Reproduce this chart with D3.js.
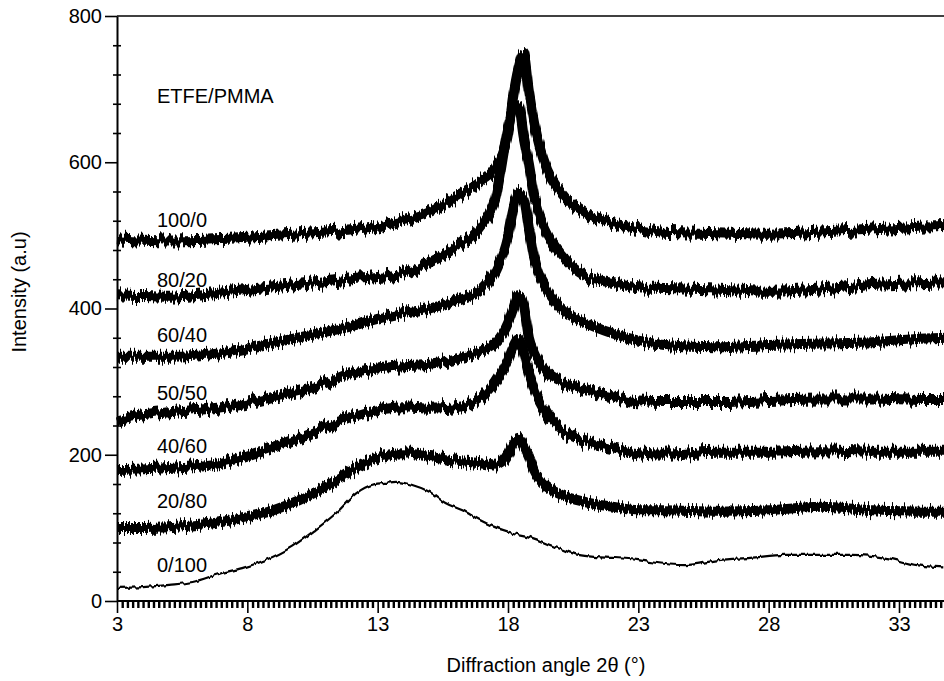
<!DOCTYPE html>
<html>
<head>
<meta charset="utf-8">
<script src="https://cdn.jsdelivr.net/npm/d3@7/dist/d3.min.js"></script>
<style>
body{margin:0;background:#fff}
text{font-family:"Liberation Sans",Arial,sans-serif;fill:#000}
</style>
</head>
<body>
<div id="graph"></div>
<script>
var width=944;
var height=681;

// 2theta grid (deg) for the noisy scans
var angle=[3,4,5,7,9,11,12,13,14,15,16,17,17.5,18,18.2,18.4,18.6,18.8,19,19.5,20,21,22,23,24,26,28,30,32,34,34.8];
var etfe100=[496,494,493,495,499,504,507,512,521,532,552,575,592,640,690,728,748,697,655,590,560,530,517,510,505,503,501,504,508,512,513];
var etfe80=[418,417,416,422,429,436,440,443,448,463,484,514,548,645,672,678,635,598,555,503,476,445,435,429,428,426,423,426,432,435,436];
var etfe60=[334,334,334,339,353,368,376,386,394,400,411,428,450,498,535,558,550,510,470,426,402,380,366,356,350,347,350,352,354,359,360];
var etfe50=[247,254,258,265,279,298,312,318,321,323,330,342,352,380,400,418,405,360,340,312,300,288,280,273,272,272,275,277,277,275,275];
var etfe40=[179,180,182,189,211,238,252,261,265,263,265,278,298,330,348,358,340,312,290,255,236,218,209,202,200,204,204,206,204,204,204];
var etfe20=[100,100,101,108,124,156,178,197,202,197,192,188,185,200,215,222,212,197,178,156,146,135,129,124,124,122,124,129,124,122,122];

// pure PMMA scan (thin line)
var angle0=[3,4,5,5.9,7,7.8,8.7,9.7,10.6,11.4,12.2,12.8,13.4,13.7,14.3,15,15.6,16.25,16.9,17.5,18.2,18.8,19.45,20.1,20.7,21.4,22,23,23.5,24.8,26.1,27.3,28.6,29.9,31.2,32.5,33.7,34.7];
var etfe0=[18,19,22,26,38,45,56,74,97,120,148,159,162,163,159,149,134,124,111,101,93,88,79,70,63,60,59,56,53,49,56,59,63,63,63,59,49,46];

var names=['100/0','80/20','60/40','50/50','40/60','20/80','0/100'];
var xTicks=[3,8,13,18,23,28,33];
var yTicks=[0,200,400,600,800];

var series=[
	{name:names[0],xs:angle,ys:etfe100,ly:227},
	{name:names[1],xs:angle,ys:etfe80,ly:287},
	{name:names[2],xs:angle,ys:etfe60,ly:342},
	{name:names[3],xs:angle,ys:etfe50,ly:400},
	{name:names[4],xs:angle,ys:etfe40,ly:453},
	{name:names[5],xs:angle,ys:etfe20,ly:508},
	{name:names[6],xs:angle0,ys:etfe0,ly:572,thin:true}
];

var svg=d3.select('#graph').append('svg').attr('width',width).attr('height',height);

var x=d3.scaleLinear().domain([3,33]).range([117,899]);
var y=d3.scaleLinear().domain([0,800]).range([601,16]);

// rough scan texture
var defs=svg.append('defs');
function jag(id,freq,scale){
	var f=defs.append('filter').attr('id',id).attr('filterUnits','userSpaceOnUse')
		.attr('x',0).attr('y',0).attr('width',width).attr('height',height)
		.attr('color-interpolation-filters','sRGB');
	f.append('feTurbulence').attr('type','fractalNoise').attr('baseFrequency',freq)
		.attr('numOctaves',2).attr('seed',7).attr('result','n');
	f.append('feColorMatrix').attr('in','n').attr('type','matrix')
		.attr('values','0 0 0 0 0.5  1 0 0 0 0  0 0 0 0 0  0 0 0 0 1').attr('result','m');
	f.append('feDisplacementMap').attr('in','SourceGraphic').attr('in2','m')
		.attr('scale',scale).attr('xChannelSelector','R').attr('yChannelSelector','G');
}
jag('jag','0.5 0.006',16);
jag('jagThin','0.25 0.01',5);

var line=d3.line().curve(d3.curveMonotoneX);

svg.selectAll('path.scan').data(series).enter().append('path')
	.attr('class','scan')
	.attr('d',function(d){
		return line(d.xs.map(function(v,i){return [x(v),y(d.ys[i])];}));
	})
	.attr('fill','none')
	.attr('stroke','#000')
	.attr('stroke-width',function(d){return d.thin?2.2:10;})
	.attr('filter',function(d){return d.thin?'url(#jagThin)':'url(#jag)';});

svg.selectAll('text.lbl').data(series).enter().append('text')
	.attr('class','lbl')
	.attr('x',157).attr('y',function(d){return d.ly;})
	.style('font-size','20px')
	.text(function(d){return d.name;});

svg.append('text').attr('x',157).attr('y',103).style('font-size','20px').text('ETFE/PMMA');

// frame top
svg.append('path').attr('d','M117,16H'+width).attr('stroke','#000').attr('stroke-width',1.5);

function styleAxis(g,w,tw){
	g.select('.domain').attr('stroke-width',w);
	g.selectAll('.tick line').attr('stroke','#000').attr('stroke-width',tw||1.6);
	g.selectAll('text').style('font-size','20px').style('font-family','"Liberation Sans",Arial,sans-serif');
}

// minor ticks
var yMinor=d3.range(40,800,40).filter(function(v){return v%200!==0;});
var xMinor=d3.range(0,160).map(function(i){return +(3+i*0.2).toFixed(1);})
	.filter(function(v){return x(v)<=width && Math.round((v-3)*10)%50!==0;});

var yMinL=svg.append('g').attr('transform','translate(117,0)')
	.call(d3.axisLeft(y).tickValues(yMinor).tickSize(4).tickFormat(''));
yMinL.select('.domain').remove();
styleAxis(yMinL,0);
var yMinR=svg.append('g').attr('transform','translate(117,0)')
	.call(d3.axisRight(y).tickValues(yMinor).tickSize(4).tickFormat(''));
yMinR.select('.domain').remove();
styleAxis(yMinR,0);

var xMin=svg.append('g').attr('transform','translate(0,601)')
	.call(d3.axisBottom(x).tickValues(xMinor).tickSize(7).tickFormat(''));
xMin.select('.domain').remove();
styleAxis(xMin,0,2.4);

// y axis
var yAxis=svg.append('g').attr('transform','translate(117,0)')
	.call(d3.axisLeft(y).tickValues(yTicks).tickSize(12).tickSizeOuter(0).tickPadding(3));
styleAxis(yAxis,2);

// x axis
var xAxis=svg.append('g').attr('transform','translate(0,601)')
	.call(d3.axisBottom(x).tickValues(xTicks).tickSize(12).tickSizeOuter(0).tickPadding(4));
xAxis.select('.domain').attr('d','M117,0H'+width);
styleAxis(xAxis,2);

// axis titles
svg.append('text').attr('transform','translate(26,292) rotate(-90)')
	.attr('text-anchor','middle').style('font-size','20px').text('Intensity (a.u)');
svg.append('text').attr('x',546).attr('y',672)
	.attr('text-anchor','middle').style('font-size','20px').text('Diffraction angle 2\u03b8 (\u00b0)');
</script>
</body>
</html>
